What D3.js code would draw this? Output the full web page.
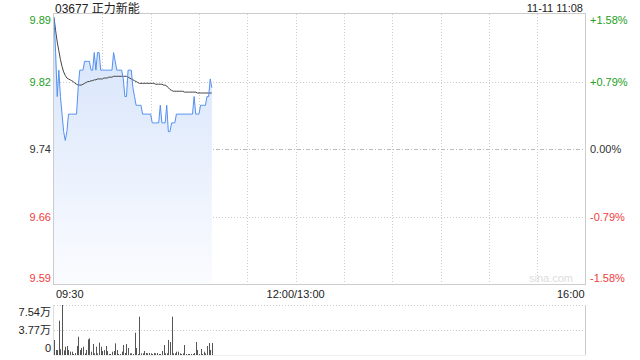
<!DOCTYPE html>
<html><head><meta charset="utf-8">
<script src="https://cdn.jsdelivr.net/npm/d3@7"></script>
<style>
html,body{margin:0;padding:0;background:#fff;}
svg{display:block;font-family:"Liberation Sans",Arial,"Noto Sans CJK SC",sans-serif;}
</style></head>
<body><svg id="c" width="640" height="360"></svg>
<script>
const title = "03677 正力新能";
const stamp = "11-11 11:08";
const prevClose = 9.74;
const pctTicks = [1.58, 0.79, 0, -0.79, -1.58];
const priceLabels = ["9.89", "9.82", "9.74", "9.66", "9.59"];
const pctLabels = ["+1.58%", "+0.79%", "0.00%", "-0.79%", "-1.58%"];
const timeLabels = ["09:30", "12:00/13:00", "16:00"];
const timeLabelMinutes = [0, 150, 330];
const volLabels = ["7.54万", "3.77万", "0"];
const volTicks = [75400, 37700, 0];
// per-minute prices from 09:30 (minute 0) to 11:08 (minute 98)
const price = [
 9.89,9.85,9.80,9.83,9.80,9.78,9.76,9.75,9.76,9.78,
 9.78,9.78,9.78,9.78,9.78,9.81,9.83,9.83,9.83,9.84,
 9.84,9.84,9.84,9.83,9.83,9.85,9.83,9.85,9.85,9.83,
 9.83,9.83,9.83,9.83,9.83,9.83,9.83,9.85,9.84,9.83,
 9.83,9.83,9.83,9.82,9.80,9.80,9.83,9.83,9.83,9.81,
 9.80,9.79,9.79,9.79,9.79,9.78,9.78,9.78,9.78,9.78,
 9.78,9.77,9.77,9.77,9.77,9.77,9.79,9.77,9.77,9.77,
 9.79,9.76,9.76,9.77,9.77,9.77,9.78,9.78,9.78,9.78,
 9.78,9.78,9.78,9.78,9.78,9.78,9.78,9.80,9.78,9.78,
 9.78,9.79,9.79,9.79,9.79,9.80,9.80,9.82,9.81
];
const avgPrice = [
 9.890,9.875,9.862,9.852,9.842,9.834,9.828,9.824,9.821,9.820,
 9.819,9.818,9.817,9.815,9.814,9.813,9.813,9.813,9.814,9.815,
 9.816,9.817,9.817,9.818,9.818,9.819,9.819,9.820,9.820,9.820,
 9.820,9.821,9.821,9.821,9.822,9.822,9.822,9.823,9.823,9.823,
 9.823,9.823,9.823,9.823,9.823,9.823,9.822,9.821,9.820,9.819,
 9.818,9.817,9.816,9.815,9.815,9.815,9.815,9.815,9.815,9.815,
 9.815,9.815,9.815,9.814,9.814,9.814,9.814,9.814,9.813,9.813,
 9.812,9.810,9.808,9.807,9.806,9.806,9.806,9.806,9.806,9.806,
 9.806,9.805,9.805,9.805,9.805,9.805,9.805,9.805,9.805,9.804,
 9.804,9.804,9.804,9.804,9.804,9.804,9.804,9.804,9.804
];
const volume = [
 22600,7500,7500,51700,8600,75400,7000,12500,13600,7500,
 5000,5000,1500,3000,13600,27600,7500,10600,12500,2500,
 7500,23600,25100,5000,16600,2500,12500,2500,18600,12500,
 6000,7500,13600,6000,1500,1500,5000,6000,17600,7500,
 1500,1500,5000,15100,3000,16600,10600,2500,2500,1500,
 33600,10600,1500,57800,2500,2500,6000,3000,2500,3000,
 2500,1500,3000,2500,3000,1500,1500,6000,15100,2500,
 2500,22600,19600,57800,2500,2500,5000,5000,2500,1500,
 2500,15100,1500,1500,1500,1500,1500,3000,19600,7500,
 1500,9000,1500,5000,2500,13600,18100,7500,18100
];

const svg = d3.select("#c");
const L = 54, R = 585.5, T = 14, B = 284.5;
const VT = 305, VB = 355;
const green = "#22a022", red = "#f03c3c", txt = "#333";

const x = d3.scaleLinear().domain([0, 330]).range([L, R]);
const y = d3.scaleLinear().domain([prevClose * (1 - 0.0158), prevClose * (1 + 0.0158)]).range([B, T]);
const yv = d3.scaleLinear().domain([0, 75400]).range([VB, VT]);

const defs = svg.append("defs");
const g = defs.append("linearGradient").attr("id", "fill").attr("gradientUnits", "userSpaceOnUse")
  .attr("x1", 0).attr("y1", T).attr("x2", 0).attr("y2", B);
g.append("stop").attr("offset", 0).attr("stop-color", "#d3e2fa");
g.append("stop").attr("offset", 1).attr("stop-color", "#fbfcff");

const gridMins = d3.range(30, 330, 30);
svg.append("g").selectAll("line").data(gridMins).join("line")
  .attr("x1", d => Math.round(x(d)) + 0.5).attr("x2", d => Math.round(x(d)) + 0.5)
  .attr("y1", T).attr("y2", B)
  .attr("stroke", "#ccc").attr("stroke-dasharray", "1,2");

svg.append("g").selectAll("line").data(pctTicks.filter(p => Math.abs(p) < 1.5)).join("line")
  .attr("x1", L).attr("x2", R)
  .attr("y1", d => Math.round(y(prevClose * (1 + d / 100))) + 0.5)
  .attr("y2", d => Math.round(y(prevClose * (1 + d / 100))) + 0.5)
  .attr("stroke", d => d === 0 ? "#bbb" : "#ccc")
  .attr("stroke-dasharray", d => d === 0 ? "4,2,1,2" : "1,2");

const mins = price.map((_, i) => i);
svg.append("path").datum(mins)
  .attr("d", d3.area().x(i => x(i)).y0(B).y1(i => y(price[i])))
  .attr("fill", "url(#fill)");

svg.append("text").attr("x", 573).attr("y", 282).attr("text-anchor", "end")
  .attr("font-size", 11).attr("fill", "#ddd").text("sina.com");

svg.append("path").datum(mins)
  .attr("d", d3.line().x(i => x(i)).y(i => y(avgPrice[i])))
  .attr("fill", "none").attr("stroke", "#444").attr("stroke-width", 1);
svg.append("path").datum(mins)
  .attr("d", d3.line().x(i => x(i)).y(i => y(price[i])))
  .attr("fill", "none").attr("stroke", "#5590f0").attr("stroke-width", 1);

svg.append("rect").attr("x", L - 0.5).attr("y", T - 0.5).attr("width", R - L + 0.5).attr("height", B - T + 0.5)
  .attr("fill", "none").attr("stroke", "#ccc");

const ny = pctTicks.length;
pctTicks.forEach((p, i) => {
  let yy = y(prevClose * (1 + p / 100));
  const off = i === 0 ? 6 : (i === ny - 1 ? -7 : 0);
  const col = p > 0 ? green : (p < 0 ? red : txt);
  svg.append("text").attr("x", 51).attr("y", yy + off + 4).attr("text-anchor", "end")
    .attr("font-size", 11).attr("fill", col).text(priceLabels[i]);
  svg.append("text").attr("x", 590).attr("y", yy + off + 4).attr("text-anchor", "start")
    .attr("font-size", 11).attr("fill", col).text(pctLabels[i]);
});

svg.append("text").attr("x", 55).attr("y", 12.5).attr("font-size", 12).attr("fill", "#222").text(title);
svg.append("text").attr("x", 583).attr("y", 12).attr("text-anchor", "end").attr("font-size", 11).attr("fill", "#222").text(stamp);

timeLabels.forEach((t, i) => {
  const anchor = i === 0 ? "start" : (i === timeLabels.length - 1 ? "end" : "middle");
  svg.append("text").attr("x", x(timeLabelMinutes[i]) + (i === 0 ? 2 : (i === timeLabels.length - 1 ? -1 : 0)))
    .attr("y", 297.5).attr("text-anchor", anchor).attr("font-size", 11).attr("fill", "#222").text(t);
});

svg.append("g").selectAll("line").data(volTicks.filter(v => v > 0)).join("line")
  .attr("x1", L).attr("x2", R)
  .attr("y1", d => Math.round(yv(d)) + 0.5).attr("y2", d => Math.round(yv(d)) + 0.5)
  .attr("stroke", "#ccc").attr("stroke-dasharray", "1,2");
svg.append("line").attr("x1", L - 0.5).attr("x2", L - 0.5).attr("y1", VT).attr("y2", VB).attr("stroke", "#ddd");
svg.append("line").attr("x1", R).attr("x2", R).attr("y1", VT).attr("y2", VB).attr("stroke", "#ccc");
svg.append("line").attr("x1", L).attr("x2", R).attr("y1", VB + 0.5).attr("y2", VB + 0.5).attr("stroke", "#eee");

svg.append("g").selectAll("rect").data(volume).join("rect")
  .attr("x", (d, i) => Math.round(x(i)))
  .attr("width", 1)
  .attr("y", d => yv(d))
  .attr("height", d => VB - yv(d))
  .attr("fill", "#555");

volTicks.forEach((v, i) => {
  const off = i === 0 ? 7 : (i === volTicks.length - 1 ? -7 : 0);
  svg.append("text").attr("x", 51).attr("y", yv(v) + off + 4).attr("text-anchor", "end")
    .attr("font-size", 11).attr("fill", "#222").text(volLabels[i]);
});
</script></body></html>
